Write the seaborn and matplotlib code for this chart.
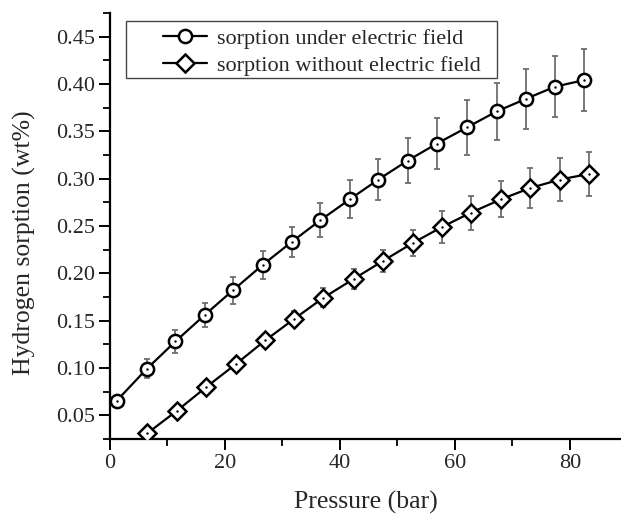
import numpy as np
import pandas as pd
import matplotlib
matplotlib.use('Agg')
import matplotlib.pyplot as plt
from matplotlib.lines import Line2D
from matplotlib.patches import Rectangle
from matplotlib.ticker import MultipleLocator
import seaborn as sns

# data
p_field = [1.2, 6.4, 11.4, 16.5, 21.4, 26.6, 31.6, 36.6, 41.7, 46.7,
           51.8, 56.9, 62.1, 67.3, 72.3, 77.4, 82.5]
h_field = [0.0655, 0.099, 0.128, 0.156, 0.182, 0.209, 0.233, 0.256, 0.278, 0.299,
           0.319, 0.337, 0.354, 0.371, 0.384, 0.397, 0.404]
e_field = [0.004, 0.010, 0.012, 0.013, 0.014, 0.015, 0.016, 0.018, 0.020, 0.022,
           0.024, 0.027, 0.029, 0.030, 0.032, 0.032, 0.033]

p_nofield = [6.5, 11.7, 16.8, 21.9, 27.0, 32.1, 37.1, 42.4, 47.5, 52.7,
             57.8, 62.8, 68.0, 73.1, 78.3, 83.4]
h_nofield = [0.031, 0.055, 0.080, 0.104, 0.129, 0.152, 0.174, 0.194, 0.213, 0.232,
             0.249, 0.264, 0.278, 0.290, 0.299, 0.305]
e_nofield = [0.003, 0.004, 0.005, 0.006, 0.007, 0.008, 0.010, 0.011, 0.012, 0.014,
             0.017, 0.018, 0.019, 0.021, 0.023, 0.023]

labels = ['sorption under electric field', 'sorption without electric field']
yticks = [0.05, 0.10, 0.15, 0.20, 0.25, 0.30, 0.35, 0.40, 0.45]

sns.set_style('ticks')
plt.rcParams['font.family'] = ['Liberation Serif', 'DejaVu Serif']

fig = plt.figure(figsize=(6.21, 5.14), dpi=100)
ax = fig.add_axes([0.177, 0.146, 0.823, 0.829])

df1 = pd.DataFrame({'p': p_field, 'h': h_field})
df2 = pd.DataFrame({'p': p_nofield, 'h': h_nofield})

# error bars (grey)
ax.errorbar(p_field, h_field, yerr=e_field, fmt='none', ecolor='#6e6e6e',
            elinewidth=1.3, capsize=2.5, capthick=1.3, zorder=1)
ax.errorbar(p_nofield, h_nofield, yerr=e_nofield, fmt='none', ecolor='#6e6e6e',
            elinewidth=1.3, capsize=2.5, capthick=1.3, zorder=1)

sns.lineplot(data=df1, x='p', y='h', ax=ax, color='black', lw=1.6,
             marker='o', markersize=9.5, markerfacecolor='white',
             markeredgecolor='black', markeredgewidth=1.8, zorder=3)
sns.lineplot(data=df2, x='p', y='h', ax=ax, color='black', lw=1.6,
             marker='D', markersize=9.5, markerfacecolor='white',
             markeredgecolor='black', markeredgewidth=1.8, zorder=3)
# centre dots
sns.scatterplot(x=p_field + p_nofield, y=h_field + h_nofield, ax=ax,
                color='black', s=3, linewidth=0, zorder=4)

ax.set_xlim(0, 88.9)
ax.set_ylim(0.025, 0.475)
ax.xaxis.set_major_locator(MultipleLocator(20))
ax.xaxis.set_minor_locator(MultipleLocator(10))
ax.yaxis.set_minor_locator(MultipleLocator(0.025))
ax.set_yticks(yticks)
ax.set_yticklabels(['%.2f' % v for v in yticks])
ax.tick_params(which='major', direction='out', length=8, width=1.4, labelsize=16,
               color='black', pad=3)
ax.tick_params(which='minor', direction='out', length=5, width=1.3, color='black')

for s in ['top', 'right']:
    ax.spines[s].set_visible(False)
for s in ['left', 'bottom']:
    ax.spines[s].set_linewidth(1.6)
    ax.spines[s].set_color('black')

ax.set_xlabel('Pressure (bar)', fontsize=18.5)
ax.set_ylabel('Hydrogen sorption (wt%)', fontsize=18.5)
ax.xaxis.set_label_coords(0.5, -0.122)
ax.yaxis.set_label_coords(-0.145, 0.46)

h1 = Line2D([], [], color='black', lw=1.6, marker='o', markersize=9.5,
            markerfacecolor='white', markeredgecolor='black', markeredgewidth=1.8)
h2 = Line2D([], [], color='black', lw=1.6, marker='D', markersize=9.5,
            markerfacecolor='white', markeredgecolor='black', markeredgewidth=1.8)
leg = ax.legend([h1, h2], labels, loc='upper left',
                bbox_to_anchor=(163 / 621, 1 - 28 / 514), bbox_transform=fig.transFigure,
                fontsize=16, frameon=False, handlelength=2.0, handletextpad=0.45,
                borderpad=0, borderaxespad=0, labelspacing=0.3)
# legend box is wider than its contents in the original
fig.patches.append(Rectangle((126 / 621, 1 - 78 / 514), (497 - 126) / 621, 57 / 514,
                             transform=fig.transFigure, fill=False,
                             edgecolor='#444444', linewidth=1.0, zorder=5))

plt.savefig('out.png', dpi=100)
